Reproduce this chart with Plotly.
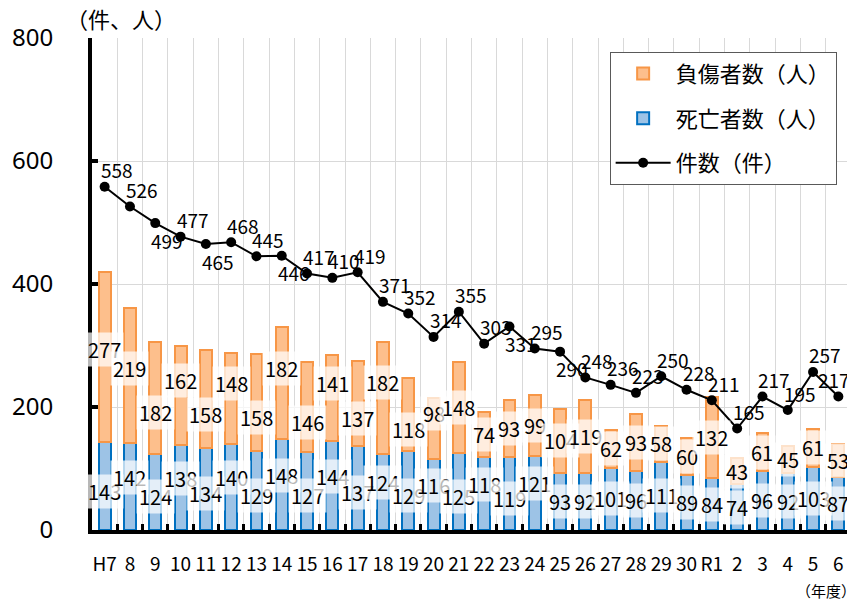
import plotly.graph_objects as go

categories = ["H7", "8", "9", "10", "11", "12", "13", "14", "15", "16", "17", "18", "19", "20",
              "21", "22", "23", "24", "25", "26", "27", "28", "29", "30", "R1", "2", "3", "4", "5", "6"]
cat_ids = ["H7", "H8", "H9", "H10", "H11", "H12", "H13", "H14", "H15", "H16", "H17", "H18", "H19", "H20",
           "H21", "H22", "H23", "H24", "H25", "H26", "H27", "H28", "H29", "H30", "R1", "R2", "R3", "R4", "R5", "R6"]
deaths = [143, 142, 124, 138, 134, 140, 129, 148, 127, 144, 137, 124, 129, 116, 125,
          118, 119, 121, 93, 92, 101, 96, 111, 89, 84, 74, 96, 92, 103, 87]
injuries = [277, 219, 182, 162, 158, 148, 158, 182, 146, 141, 137, 182, 118, 98, 148,
            74, 93, 99, 104, 119, 62, 93, 58, 60, 132, 43, 61, 45, 61, 53]
cases = [558, 526, 499, 477, 465, 468, 445, 446, 417, 410, 419, 371, 352, 314, 355,
         303, 331, 295, 290, 248, 236, 223, 250, 228, 211, 165, 217, 195, 257, 217]
cases_label_below = ["H9", "H11", "H14", "H23", "H25"]

NUM_FONT = "Noto Sans CJK JP, sans-serif"
JP_FONT = "Noto Sans CJK JP, sans-serif"

fig = go.Figure()
fig.add_trace(go.Bar(
    x=cat_ids, y=deaths, name="死亡者数（人）",
    marker=dict(color="#9DC3E6", line=dict(color="#0070C0", width=2)),
    legendrank=2, legendgroup="d",
))
fig.add_trace(go.Bar(
    x=cat_ids, y=injuries, name="負傷者数（人）",
    marker=dict(color="#FDBF8C", line=dict(color="#F79646", width=2)),
    legendrank=1, legendgroup="i",
))
fig.add_trace(go.Scatter(
    x=cat_ids, y=cases, name="件数（件）", mode="lines+markers",
    line=dict(color="black", width=2), marker=dict(color="black", size=10),
    legendrank=3, legendgroup="c",
))

ann = []
n = len(cat_ids)
for i, cid in enumerate(cat_ids):
    d, j, c = deaths[i], injuries[i], cases[i]
    ds = 0
    if i <= 17:
        ds = -5 if i % 2 == 0 else 9
    ann.append(dict(x=cid, y=d / 2, text=str(d), showarrow=False, yshift=ds,
                    font=dict(family=NUM_FONT, size=20, color="black"),
                    bgcolor="rgba(255,255,255,0.72)", borderpad=2))
    js = 0
    if 2 <= i <= 13:
        js = -15 if i % 2 == 0 else 15
    elif i < 2:
        js = 7
    ann.append(dict(x=cid, y=d + j / 2, text=str(j), showarrow=False, yshift=js,
                    font=dict(family=NUM_FONT, size=20, color="black"),
                    bgcolor="rgba(255,255,255,0.72)", borderpad=2))
    below = cid in cases_label_below
    ann.append(dict(x=cid, y=c, text=str(c), showarrow=False,
                    xshift=12 if i < n - 1 else -4,
                    yshift=-17 if below else 17,
                    font=dict(family=NUM_FONT, size=19, color="black")))

ann.append(dict(xref="paper", yref="paper", x=-0.037, y=1.041, xanchor="left", yanchor="middle",
                text="（件、人）", showarrow=False,
                font=dict(family=JP_FONT, size=22, color="black")))
ann.append(dict(xref="paper", yref="paper", x=0.925, y=-0.122, xanchor="left", yanchor="middle",
                text="（年度）", showarrow=False,
                font=dict(family=JP_FONT, size=15, color="black")))

fig.update_layout(
    width=847, height=595,
    margin=dict(l=78, r=4, t=30, b=73),
    paper_bgcolor="white", plot_bgcolor="white",
    barmode="stack", bargap=0.53,
    annotations=ann,
    legend=dict(x=0.682, y=0.972, xanchor="left", yanchor="top",
                bgcolor="white", bordercolor="#595959", borderwidth=1,
                font=dict(family=JP_FONT, size=22, color="black"),
                traceorder="grouped", tracegroupgap=13, itemwidth=55),
    xaxis=dict(type="category", categoryorder="array", categoryarray=cat_ids,
               tickvals=cat_ids, ticktext=categories, tickangle=0,
               tickson="boundaries", ticks="inside", ticklen=6, tickwidth=3, tickcolor="black",
               showgrid=True, gridcolor="#D9D9D9", gridwidth=1,
               showline=True, linecolor="black", linewidth=4,
               tickfont=dict(family=NUM_FONT, size=19, color="black"),
               ticklabelstandoff=14, range=[-0.5, 29.5]),
    yaxis=dict(range=[0, 800], dtick=200, ticks="inside", ticklen=6, tickwidth=4, tickcolor="black",
               showgrid=True, gridcolor="#D9D9D9", gridwidth=1, zeroline=False,
               showline=True, linecolor="black", linewidth=4,
               tickfont=dict(family="Noto Sans, sans-serif", size=24, color="black"),
               ticklabelstandoff=30),
)

fig.write_html("out.html")
